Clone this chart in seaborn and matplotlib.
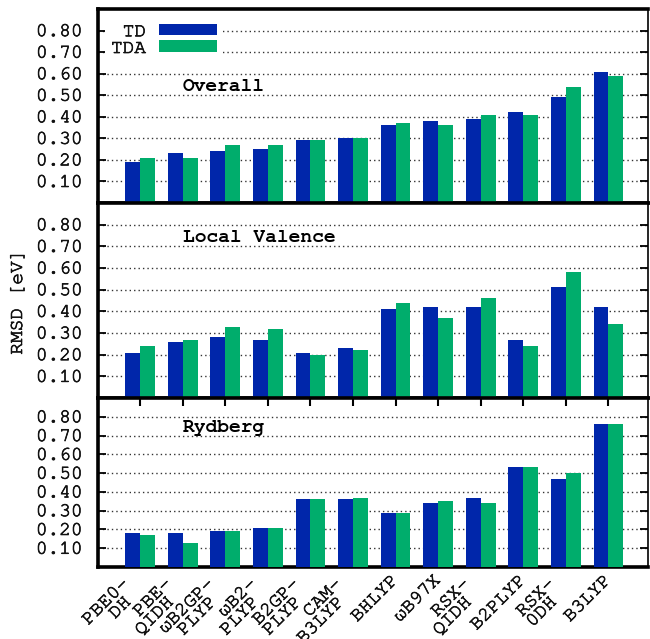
import matplotlib
matplotlib.use("Agg")
import matplotlib.pyplot as plt
import matplotlib.patheffects as pe
import seaborn as sns
import pandas as pd

# Functionals (x categories) and excitation-treatment series
functionals = ["PBE0-\nDH", "PBE-\nQIDH", "ωB2GP-\nPLYP", "ωB2-\nPLYP", "B2GP-\nPLYP",
               "CAM-\nB3LYP", "BHLYP", "ωB97X", "RSX-\nQIDH", "B2PLYP", "RSX-\n0DH", "B3LYP"]
methods = ["TD", "TDA"]
panel_titles = ["Overall", "Local Valence", "Rydberg"]

# RMSD values [eV]
overall_td = [0.19, 0.23, 0.24, 0.25, 0.29, 0.30, 0.36, 0.38, 0.39, 0.42, 0.49, 0.61]
overall_tda = [0.21, 0.21, 0.27, 0.27, 0.29, 0.30, 0.37, 0.36, 0.41, 0.41, 0.54, 0.59]
valence_td = [0.21, 0.26, 0.28, 0.27, 0.21, 0.23, 0.41, 0.42, 0.42, 0.27, 0.51, 0.42]
valence_tda = [0.24, 0.27, 0.33, 0.32, 0.20, 0.22, 0.44, 0.37, 0.46, 0.24, 0.58, 0.34]
rydberg_td = [0.18, 0.18, 0.19, 0.21, 0.36, 0.36, 0.29, 0.34, 0.37, 0.53, 0.47, 0.76]
rydberg_tda = [0.17, 0.13, 0.19, 0.21, 0.36, 0.37, 0.29, 0.35, 0.34, 0.53, 0.50, 0.76]

y_ticks = [0.1, 0.2, 0.3, 0.4, 0.5, 0.6, 0.7, 0.8]

panel_series = [(overall_td, overall_tda), (valence_td, valence_tda), (rydberg_td, rydberg_tda)]

sns.set_theme(style="white")
plt.rcParams["font.family"] = ["Courier New", "Nimbus Mono PS", "FreeMono",
                               "Liberation Mono", "DejaVu Sans Mono"]

BLUE = "#0026AA"
GREEN = "#00AD6C"
TEXT = "#111111"
# slightly heavier strokes for the thin monospace face
HEAVY = [pe.withStroke(linewidth=0.5, foreground=TEXT)]

fig = plt.figure(figsize=(6.5, 6.39), dpi=100)
W, H = 650.0, 639.0
left, right = 98 / W, 648 / W
edges = [9, 203, 398, 567]  # panel borders in pixels from the top
axes = []
for i in range(3):
    top_px, bot_px = edges[i], edges[i + 1]
    ax = fig.add_axes([left, 1 - bot_px / H, right - left, (bot_px - top_px) / H])
    axes.append(ax)

title_y = [0.54, 0.74, 0.74]


def stacked(name):
    # wrapped names: each line ends a bit earlier, so the two lines stack downwards
    if "\n" not in name:
        return name
    first, second = name.split("\n")
    return first + " \n" + second + "  "


for i, ax in enumerate(axes):
    td, tda = panel_series[i]
    df = pd.DataFrame({
        "functional": functionals * 2,
        "method": [methods[0]] * len(functionals) + [methods[1]] * len(functionals),
        "rmsd": td + tda,
    })
    sns.barplot(data=df, x="functional", y="rmsd", hue="method",
                order=functionals, hue_order=methods, palette=[BLUE, GREEN],
                width=0.70, gap=0, linewidth=0, saturation=1,
                legend=(i == 0), ax=ax, zorder=3)
    ax.set_xlim(-0.99, 11.93)
    ax.set_ylim(0, 0.9)
    ax.set_xlabel("")
    ax.set_ylabel("")
    ax.set_yticks(y_ticks)
    ax.set_yticklabels([f"{v:.2f}" for v in y_ticks])
    ax.set_axisbelow(True)
    ax.yaxis.grid(True, linestyle=(0, (1, 2.2)), color="#333333", linewidth=1.0)
    ax.xaxis.grid(False)
    ax.tick_params(axis="y", direction="in", length=6, width=1.3, left=True, right=True,
                   labelsize=14, pad=11, labelcolor=TEXT, color="black")
    for lab in ax.get_yticklabels():
        lab.set_path_effects(HEAVY)
    for name, sp in ax.spines.items():
        sp.set_color("black")
        sp.set_linewidth(2.6 if name != "right" else 1.2)
    ax.text(1.0, title_y[i], panel_titles[i], fontsize=14, fontweight="bold",
            ha="left", va="center", color="black")

    if i < 2:
        ax.tick_params(axis="x", bottom=False, top=False, labelbottom=False)
    else:
        ax.set_xticks(range(len(functionals)))
        ax.set_xticklabels([stacked(n) for n in functionals], rotation=45, ha="right",
                           va="center", rotation_mode="anchor", multialignment="right",
                           fontsize=14, color=TEXT, linespacing=1.05)
        for lab in ax.get_xticklabels():
            lab.set_path_effects(HEAVY)
        ax.tick_params(axis="x", direction="in", bottom=False, top=True,
                       length=6, width=1.5, pad=8, color="black")

# Legend: label first, then a long colour swatch
handles, labels = axes[0].get_legend_handles_labels()
leg = axes[0].legend(handles, labels, loc="upper left", bbox_to_anchor=(0.013, 0.955),
                     markerfirst=False, frameon=True, facecolor="white", edgecolor="none",
                     framealpha=1, fancybox=False, fontsize=14, handlelength=3.0,
                     handleheight=0.55, handletextpad=0.65, labelspacing=0.05,
                     borderpad=0.3, borderaxespad=0, labelcolor=TEXT)
for t in leg.get_texts():
    t.set_path_effects(HEAVY)

fig.text(18 / W, 1 - 302 / H, "RMSD [eV]", rotation=90, ha="center", va="center",
         fontsize=14, color=TEXT, path_effects=HEAVY)

fig.savefig("out.png", dpi=100)
